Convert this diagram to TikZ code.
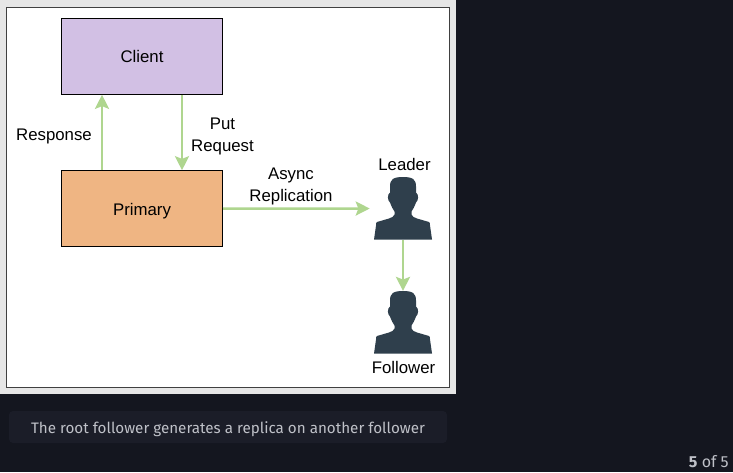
\documentclass[tikz,border=0pt]{standalone}
\usepackage{fontspec}
\setmainfont{Liberation Sans}
\newfontfamily\captionfont{Fira Sans}
\usetikzlibrary{arrows.meta}

\definecolor{pagedark}{HTML}{14161F}
\definecolor{capbox}{HTML}{1B1D28}
\definecolor{captext}{HTML}{BFC1C8}
\definecolor{panelgrey}{HTML}{E6E6E6}
\definecolor{clientfill}{HTML}{D2C0E4}
\definecolor{primaryfill}{HTML}{EFB583}
\definecolor{arrowgreen}{HTML}{AFD68F}
\definecolor{figureblue}{HTML}{2F3F4C}

\tikzset{
  box/.style={draw=black,line width=0.75pt,minimum width=120.75pt,minimum height=57pt,inner sep=0pt},
  lbl/.style={align=center,inner sep=0pt,font=\fontsize{12.6}{16.5}\selectfont},
  personbox/.style={minimum width=43.5pt,minimum height=47pt,inner sep=0pt},
  link/.style={draw=arrowgreen,line width=1.9pt,-{Stealth[inset=2pt,length=10.5pt,width=10.5pt]}},
  person/.pic={
    \fill[figureblue] (0,-31.5)
      .. controls (-10,-31.5) and (-13,-29) .. (-13,-22)
      -- (-13,-16)
      .. controls (-16,-14) and (-15.5,-8) .. (-13,-6)
      .. controls (-11.5,-2) and (-10,1) .. (-8.5,3)
      -- (-8.5,6)
      .. controls (-9,8) and (-11,9) .. (-14,10)
      -- (-26,13.5)
      .. controls (-27,14) and (-27,15) .. (-27,17)
      -- (-29,31) -- (29,31) -- (27,17)
      .. controls (27,15) and (27,14) .. (26,13.5)
      -- (14,10)
      .. controls (11,9) and (9,8) .. (8.5,6)
      -- (8.5,3)
      .. controls (10,1) and (11.5,-2) .. (13,-6)
      .. controls (15.5,-8) and (16,-14) .. (13,-16)
      -- (13,-22)
      .. controls (13,-29) and (10,-31.5) .. (0,-31.5) -- cycle;
  }
}

\begin{document}
\begin{tikzpicture}[x=0.75pt,y=-0.75pt]

\useasboundingbox (0,0) rectangle (733,472);
\fill[pagedark] (0,0) rectangle (733,472);
\fill[panelgrey] (0,0) rectangle (456,394);
\draw[fill=white,draw=black!75,line width=0.75pt] (6,7.3) rectangle (449.5,387.5);

\node[box,fill=clientfill] (client) at (142,56.3) {};
\node[box,fill=primaryfill] (primary) at (142,208.7) {};
\node[lbl] at (142,56.5) {Client};
\node[lbl] at (142,211.5) {Primary};

\node[personbox] (leader) at (403,208.5) {};
\node[personbox] (follower) at (403,322.5) {};
\pic at (leader) {person};
\pic at (follower) {person};

\node[lbl] (leaderlabel) at (404.5,164) {Leader};
\node[lbl] (followerlabel) at (403.5,367) {Follower};
\node[lbl] (response) at (54,136) {Response};
\node[lbl] (put) at (222.5,136) {Put\\Request};
\node[lbl] (async) at (291,186.5) {Async\\Replication};

\draw[link] ([xshift=-30pt]primary.north) -- ([xshift=-30pt]client.south);
\draw[link] ([xshift=30pt]client.south) -- ([xshift=30pt]primary.north);
\draw[link,shorten >=3pt] (primary.east) -- (leader.west);
\draw[link] (leader.south) -- (follower.north);

% caption strip
\fill[capbox,rounded corners=3pt] (9,411) rectangle (447,443);
\node[text=captext,inner sep=0pt,font=\captionfont\fontsize{11.4}{14}\selectfont] (caption) at (228,429) {The root follower generates a replica on another follower};
\node[text=captext,inner sep=0pt,anchor=east,font=\captionfont\fontsize{12}{14}\selectfont] (pager) at (729,462) {\textbf{5} of 5};

\end{tikzpicture}
\end{document}
